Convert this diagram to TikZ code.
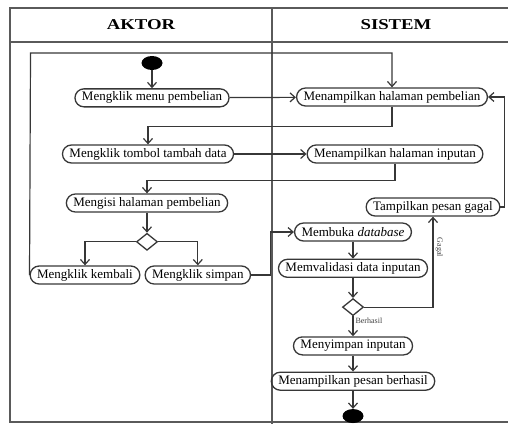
\documentclass[tikz,border=0pt]{standalone}
\usepackage{fontspec}
\setmainfont{Liberation Serif}
\newfontfamily\headfont[FakeStretch=1.25]{Liberation Serif}
\usepackage{xcolor}
\usepackage{tikz}
\usetikzlibrary{arrows.meta, shapes.geometric, positioning, calc}
\definecolor{linegray}{RGB}{55,55,55}
\definecolor{framegray}{RGB}{90,90,90}
\tikzset{
  action/.style={
      draw=linegray,
      rectangle,
      rounded corners=9pt,
      minimum height=18pt,
      inner xsep=7pt,
      inner ysep=2pt,
      line width=1.3pt,
      font=\fontsize{13}{15}\selectfont
  },
  decision/.style={
      draw=linegray,
      diamond,
      minimum width=21pt,
      minimum height=17pt,
      inner sep=0pt,
      line width=1.3pt
  },
  terminal/.style={
      fill=black,
      ellipse,
      minimum width=21pt,
      minimum height=14pt,
      inner sep=0pt
  },
  lane/.style={font=\headfont\bfseries\fontsize{15}{17}\selectfont},
  guard/.style={font=\fontsize{8}{9}\selectfont, text=black!75, inner sep=2pt},
  frame/.style={draw=framegray, line width=1.3pt},
  arrow/.style={-{Straight Barb[length=5pt, width=9pt]}, line width=1.2pt, draw=linegray}
}

\begin{document}
\begin{tikzpicture}[x=1pt, y=1pt, node distance=18pt]
      \useasboundingbox (0,0) rectangle (508,-423);
      \clip (0,0) rectangle (508,-423);
      % Swimlanes
      \draw[frame] (10,-8) rectangle (520,-422);
      \draw[frame] (10,-42) -- (520,-42);
      \draw[frame] (272,-8) -- (272,-430);
      \node (aktor) [lane] at (141,-25) {AKTOR};
      \node (sistem) [lane] at (396,-25) {SISTEM};

      % Aktor lane
      \node (mulai) [terminal] at (152,-63) {};
      \node (menu) [action, below=18pt of mulai] {Mengklik menu pembelian};
      \node (tombol) [action] at (148,-154) {Mengklik tombol tambah data};
      \node (isi) [action] at (147,-203) {Mengisi halaman pembelian};
      \node (pilih) [decision, below=20pt of isi] {};
      \node (kembali) [action] at (85,-275) {Mengklik kembali};
      \node (simpan) [action, right=4pt of kembali] {Mengklik simpan};

      % Sistem lane
      \node (tampilBeli) [action] at (392,-97) {Menampilkan halaman pembelian};
      \node (tampilInput) [action] at (395,-154) {Menampilkan halaman inputan};
      \node (gagal) [action] at (433,-207) {Tampilkan pesan gagal};
      \node (buka) [action] at (353,-232) {Membuka \textit{database}};
      \node (validasi) [action, below=17pt of buka] {Memvalidasi data inputan};
      \node (cek) [decision, below=20pt of validasi] {};
      \node (simpanData) [action, below=20pt of cek] {Menyimpan inputan};
      \node (berhasil) [action, below=16pt of simpanData] {Menampilkan pesan berhasil};
      \node (selesai) [terminal, below=18pt of berhasil] {};

      % Connections
      \draw[arrow] (mulai) -- (menu);
      \draw[arrow] (menu) -- (tampilBeli);
      \draw[arrow] (tampilBeli.south) -- ++(0,-20pt) -| (tombol.north);
      \draw[arrow] (tombol) -- (tampilInput);
      \draw[arrow] (tampilInput.south) -- ++(0,-17pt) -| (isi.north);
      \draw[arrow] (isi) -- (pilih);
      \draw[arrow] (pilih.west) -| (kembali.north);
      \draw[arrow] (pilih.east) -| (simpan.north);
      \draw[arrow] (kembali.west) -- ++(1pt,222pt) -| (tampilBeli.north);
      \draw[arrow] (simpan.east) -- ++(19pt,0) |- (buka.west);
      \draw[arrow] (buka) -- (validasi);
      \draw[arrow] (validasi) -- (cek);
      \draw[arrow] (cek) -- node[guard, right, pos=0.25] {Berhasil} (simpanData);
      \draw[arrow] (cek.east) -| node[guard, rotate=-90, anchor=south, pos=0.83] {Gagal} (gagal.south);
      \draw[arrow] (gagal.east) -- ++(4pt,0) |- (tampilBeli.east);
      \draw[arrow] (simpanData) -- (berhasil);
      \draw[arrow] (berhasil) -- (selesai);
\end{tikzpicture}
\end{document}
